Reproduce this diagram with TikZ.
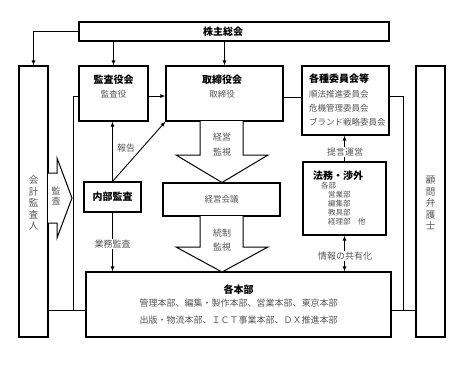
\documentclass[tikz,border=0pt]{standalone}
\usepackage{fontspec}
\setmainfont{Noto Sans CJK JP}
\usetikzlibrary{arrows.meta}
\definecolor{txtgray}{HTML}{555555}
\tikzset{
 box/.style={draw, line width=1.1pt, fill=white, inner sep=0pt},
 conn/.style={line width=0.9pt},
 arr/.style={conn, -{Latex[length=5pt,width=4pt]}},
 darr/.style={conn, {Latex[length=5pt,width=4pt]}-{Latex[length=5pt,width=4pt]}},
 title/.style={font=\fontsize{10}{12}\selectfont\bfseries, inner sep=0pt},
 sub/.style={font=\fontsize{8.5}{10}\selectfont, text=txtgray, inner sep=0pt},
 small/.style={font=\fontsize{7.5}{9}\selectfont, text=txtgray, inner sep=0pt, anchor=west},
 lbl/.style={font=\fontsize{9}{10}\selectfont, text=txtgray, fill=white, inner sep=1pt},
 vtext/.style={font=\fontsize{9.5}{11.5}\selectfont, text=txtgray, align=center, inner sep=0pt},
 bigarrow/.style={line width=1pt, fill=white, line join=miter},
}
\begin{document}
\begin{tikzpicture}[x=1pt,y=-1pt]
\useasboundingbox (0,0) rectangle (464,367);
% boxes
\node[box, minimum width=310pt, minimum height=19pt] (kabu) at (234,31.5) {};
\node[box, minimum width=29pt, minimum height=271pt] (kaikei) at (33.5,201.5) {};
\node[box, minimum width=69pt, minimum height=55pt] (kansa) at (113.5,93.5) {};
\node[box, minimum width=117pt, minimum height=55pt] (tori) at (224.5,93.5) {};
\node[box, minimum width=87pt, minimum height=69pt] (iin) at (345.5,100.5) {};
\node[box, minimum width=29pt, minimum height=271pt] (komon) at (430.5,201.5) {};
\node[box, minimum width=57pt, minimum height=30pt] (naibu) at (112.5,197) {};
\node[box, minimum width=117pt, minimum height=33pt] (keiei) at (221.5,199.5) {};
\node[box, minimum width=83pt, minimum height=73pt] (houmu) at (344.5,198.5) {};
\node[box, minimum width=305pt, minimum height=65pt] (honbu) at (238.5,304.5) {};

% junction coordinates
\coordinate (lj) at (73,310);
\coordinate (rj) at (403,310);

% connectors
\draw[arr] (kabu.west) -| (kaikei.north);
\draw[arr] (kansa.north |- kabu.south) -- (kansa.north);
\draw[arr] (tori.north |- kabu.south) -- (tori.north);
\draw[arr] ([yshift=-2.5pt]kansa.east) -- ([yshift=-2.5pt]kansa.east -| tori.west);
\draw[conn] ([yshift=-3.5pt]tori.east) -- ([yshift=-3.5pt]tori.east -| iin.west);
\draw[conn] ([yshift=4.5pt]iin.east) -| (rj);
\draw[conn] (honbu.east |- rj) -- (komon.west |- rj);
\draw[conn] ([yshift=-2.5pt]kansa.west) -| (lj);
\draw[conn] (kaikei.east |- lj) -- (honbu.west |- lj);
\draw[arr] (naibu.north) -- (naibu.north |- kansa.south);
\draw[arr] (naibu.north) -- (tori.south west);
\draw[arr] (naibu.south) -- (naibu.south |- honbu.north);
\draw[arr] (houmu.north) -- (houmu.north |- iin.south);
\draw[darr] (houmu.south) -- (houmu.south |- honbu.north);

% big arrows
\draw[bigarrow] (48,173) -- (57,173) -- (57,158) -- (72,198) -- (57,238) -- (57,223) -- (48,223);
\draw[bigarrow] (200,121) -- (200,155) -- (176,155) -- (222,182.5) -- (268,155) -- (243,155) -- (243,121);
\draw[bigarrow] (200,216) -- (200,247) -- (176,247) -- (222,272) -- (268,247) -- (243,247) -- (243,216);

% texts
\node[title] (t-kabu) at (223,32) {株主総会};
\node[vtext] (t-kaikei) at (33.5,203) {会\\計\\監\\査\\人};
\node[vtext] (t-komon) at (430.5,203) {顧\\問\\弁\\護\\士};
\node[title] (t-kansa) at (113.5,80) {監査役会};
\node[sub] (s-kansa) at (113.5,94) {監査役};
\node[title] (t-tori) at (222,80) {取締役会};
\node[sub] (s-tori) at (222,94) {取締役};
\node[title, anchor=west] (t-iin) at (309,79) {各種委員会等};
\node[sub, anchor=west] (s-iin1) at (309,94) {順法推進委員会};
\node[sub, anchor=west] (s-iin2) at (309,108) {危機管理委員会};
\node[sub, anchor=west] (s-iin3) at (309,122) {ブランド戦略委員会};
\node[title] (t-naibu) at (112.5,197) {内部監査};
\node[sub] (t-keiei) at (221.5,199.5) {経営会議};
\node[title, anchor=west] (t-houmu) at (313,176) {法務・渉外};
\node[small] (h1) at (321,186) {各部};
\node[small] (h2) at (328,194.5) {営業部};
\node[small] (h3) at (328,203.5) {編集部};
\node[small] (h4) at (328,212.5) {教具部};
\node[small] (h5) at (328,221.5) {経理部\quad 他};
\node[title] (t-honbu) at (238.5,290) {各本部};
\node[sub, font=\fontsize{9}{10}\selectfont] (s-honbu1) at (238.5,303.5) {管理本部、編集・製作本部、営業本部、東京本部};
\node[sub, font=\fontsize{9}{10}\selectfont] (s-honbu2) at (238.5,320) {出版・物流本部、ＩＣＴ事業本部、ＤＸ推進本部};

% labels
\node[lbl, fill=none] (l-houkoku) at (126,148) {報告};
\node[lbl] (l-gyomu) at (112.5,244) {業務監査};
\node[lbl] (l-teigen) at (345,152) {提言運営};
\node[lbl] (l-jouhou) at (345,256) {情報の共有化};
\node[lbl, fill=none, align=center, font=\fontsize{9}{10}\selectfont] (l-kansa) at (56,196) {監\\査};
\node[lbl, fill=none, align=center, font=\fontsize{9}{14.5}\selectfont] (l-keiei) at (222,144.5) {経営\\監視};
\node[lbl, fill=none, align=center, font=\fontsize{9}{14.5}\selectfont] (l-tosei) at (222,240) {統制\\監視};
\end{tikzpicture}
\end{document}
